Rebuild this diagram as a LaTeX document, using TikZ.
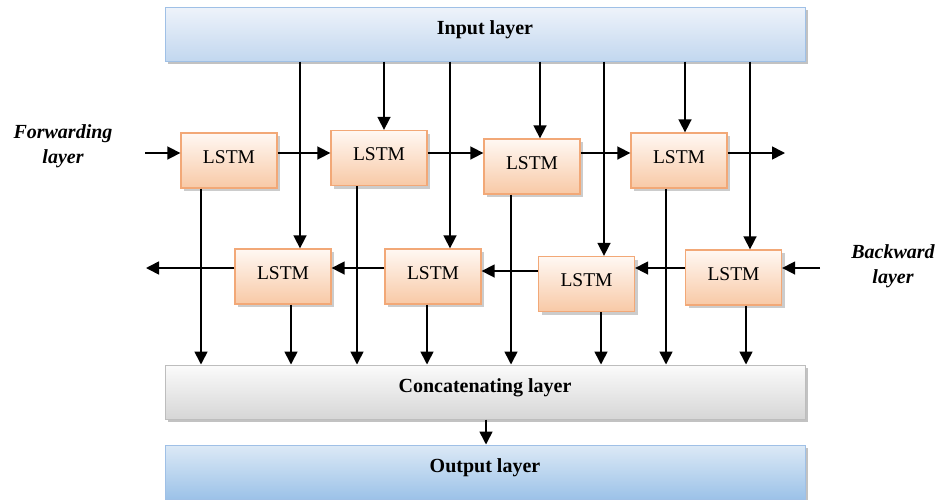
\documentclass[tikz,border=0pt]{standalone}
\usepackage{fontspec}
\setmainfont{Liberation Serif}
\usetikzlibrary{arrows.meta,shadows,calc}
\definecolor{inTop}{HTML}{EEF3FA}
\definecolor{inBot}{HTML}{C2D7EF}
\definecolor{inBorder}{HTML}{9FC0E6}
\definecolor{lsTop}{HTML}{FFF8F3}
\definecolor{lsBot}{HTML}{F8C9A6}
\definecolor{lsBorder}{HTML}{F2A877}
\definecolor{catTop}{HTML}{FBFBFB}
\definecolor{catBot}{HTML}{D6D6D6}
\definecolor{catBorder}{HTML}{BDBDBD}
\definecolor{outTop}{HTML}{DCE9F6}
\definecolor{outBot}{HTML}{9CC2E8}
\begin{document}
\begin{tikzpicture}[x=1pt,y=-1pt,
  layerbox/.style={rectangle, line width=1pt, minimum width=640pt, minimum height=54pt, inner sep=0pt,
    text depth=12pt,
    font=\fontsize{20}{24}\selectfont\bfseries,
    drop shadow={shadow xshift=3pt, shadow yshift=-3pt, fill=black!40, opacity=0.6}},
  inlayer/.style={layerbox, draw=inBorder, top color=inTop, bottom color=inBot},
  catlayer/.style={layerbox, draw=catBorder, top color=catTop, bottom color=catBot},
  outlayer/.style={layerbox, draw=inBorder, top color=outTop, bottom color=outBot},
  lstm/.style={rectangle, draw=lsBorder, line width=1.3pt, top color=lsTop, bottom color=lsBot,
    minimum width=96pt, minimum height=55pt, inner sep=0pt, text depth=7pt,
    font=\fontsize{19.5}{23}\selectfont,
    drop shadow={shadow xshift=3pt, shadow yshift=-3pt, fill=black!40, opacity=0.5}},
  sidelabel/.style={align=center, font=\fontsize{20}{25}\selectfont\bfseries\itshape},
  arr/.style={-{Triangle[length=13pt,width=13pt]}, line width=1.6pt}]
\useasboundingbox (0,0) rectangle (939,499);

% layers
\node[inlayer] (in) at (485,34) {Input layer};
\node[catlayer] (cat) at (485,392) {Concatenating layer};
\node[outlayer] (out) at (485,472) {Output layer};

% forward LSTMs
\node[lstm] (F1) at (229,160.5) {LSTM};
\node[lstm] (F2) at (379,158) {LSTM};
\node[lstm] (F3) at (532,166.5) {LSTM};
\node[lstm] (F4) at (679,160.5) {LSTM};
% backward LSTMs
\node[lstm] (B1) at (283,276.5) {LSTM};
\node[lstm] (B2) at (433,276.5) {LSTM};
\node[lstm] (B3) at (586.5,284) {LSTM};
\node[lstm] (B4) at (733.5,277.5) {LSTM};

% side labels
\node[sidelabel] (fl) at (63,146) {Forwarding\\layer};
\node[sidelabel] (bl) at (893,266) {Backward\\layer};

% helper coordinates
\coordinate (fy) at (0,153);
\coordinate (by) at (0,268);
\coordinate (by2) at (0,271);
\coordinate (fin) at (145,153);
\coordinate (fout) at (785,153);
\coordinate (bin) at (820,268);
\coordinate (bout) at (146,268);

% forward chain
\draw[arr] (fin) -- (F1.west |- fy);
\draw[arr] (F1.east |- fy) -- (F2.west |- fy);
\draw[arr] (F2.east |- fy) -- (F3.west |- fy);
\draw[arr] (F3.east |- fy) -- (F4.west |- fy);
\draw[arr] (F4.east |- fy) -- (fout);

% backward chain
\draw[arr] (bin) -- (B4.east |- by);
\draw[arr] (B4.west |- by) -- (B3.east |- by);
\draw[arr] (B3.west |- by2) -- (B2.east |- by2);
\draw[arr] (B2.west |- by) -- (B1.east |- by);
\draw[arr] (B1.west |- by) -- (bout);

% input connections
\coordinate (xb1) at (300,0);
\coordinate (xf2) at (384,0);
\coordinate (xb2) at (450,0);
\coordinate (xf3) at (540,0);
\coordinate (xb3) at (604,0);
\coordinate (xf4) at (685,0);
\coordinate (xb4) at (750,0);
\draw[arr] (in.south -| xb1) -- (B1.north -| xb1);
\draw[arr] (in.south -| xf2) -- (F2.north -| xf2);
\draw[arr] (in.south -| xb2) -- (B2.north -| xb2);
\draw[arr] (in.south -| xf3) -- (F3.north -| xf3);
\draw[arr] (in.south -| xb3) -- (B3.north -| xb3);
\draw[arr] (in.south -| xf4) -- (F4.north -| xf4);
\draw[arr] (in.south -| xb4) -- (B4.north -| xb4);

% outputs to concatenating layer
\coordinate (of1) at (201,0);
\coordinate (ob1) at (291,0);
\coordinate (of2) at (357,0);
\coordinate (ob2) at (427,0);
\coordinate (of3) at (511,0);
\coordinate (ob3) at (601,0);
\coordinate (of4) at (666,0);
\coordinate (ob4) at (746,0);
\draw[arr] (F1.south -| of1) -- (cat.north -| of1);
\draw[arr] (B1.south -| ob1) -- (cat.north -| ob1);
\draw[arr] (F2.south -| of2) -- (cat.north -| of2);
\draw[arr] (B2.south -| ob2) -- (cat.north -| ob2);
\draw[arr] (F3.south -| of3) -- (cat.north -| of3);
\draw[arr] (B3.south -| ob3) -- (cat.north -| ob3);
\draw[arr] (F4.south -| of4) -- (cat.north -| of4);
\draw[arr] (B4.south -| ob4) -- (cat.north -| ob4);

% concatenating to output
\coordinate (oc) at (486,0);
\draw[arr] (cat.south -| oc) -- (out.north -| oc);
\end{tikzpicture}
\end{document}
